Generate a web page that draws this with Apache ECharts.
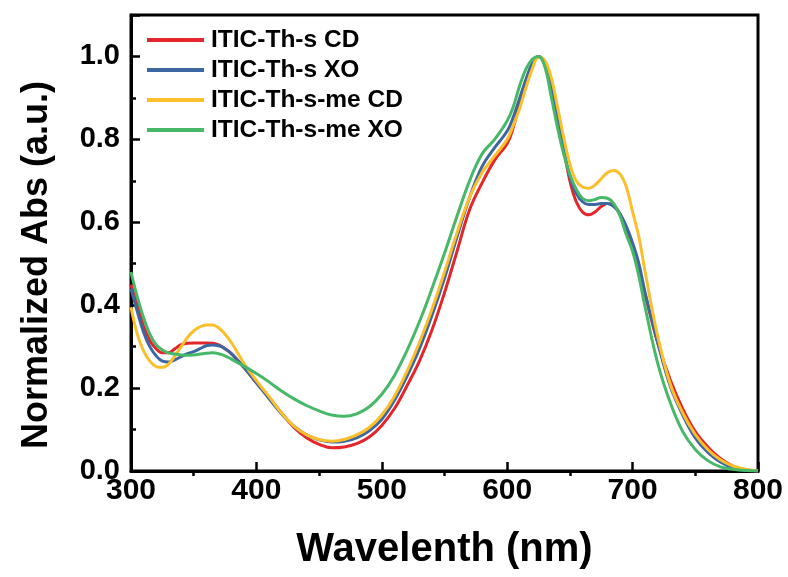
<!DOCTYPE html>
<html>
<head>
<meta charset="utf-8">
<script src="https://cdn.jsdelivr.net/npm/echarts@6/dist/echarts.min.js"></script>
<style>html,body{margin:0;padding:0;background:#fff}#c{width:788px;height:577px}</style>
</head>
<body>
<div id="c"></div>
<script>
const wavelengths = [300,305,310,315,320,325,330,335,340,345,350,355,360,365,370,375,380,
390,400,410,420,430,440,450,460,470,480,490,500,510,520,530,540,550,560,570,580,590,600,
605,610,615,620,625,630,635,640,645,650,655,660,665,670,675,680,685,690,695,700,705,710,
720,730,740,750,760,770,780,790,800];

const ithsCD = [0.45,0.40,0.35,0.315,0.295,0.285,0.285,0.295,0.305,0.308,0.309,0.309,0.309,0.308,0.304,0.295,0.283,
0.25,0.213,0.178,0.14,0.105,0.08,0.064,0.056,0.058,0.066,0.082,0.11,0.15,0.205,0.265,0.34,0.43,0.53,0.63,0.695,0.75,0.79,
0.83,0.89,0.94,0.98,1.0,0.985,0.935,0.86,0.78,0.70,0.65,0.625,0.618,0.625,0.638,0.645,0.64,0.62,0.585,0.54,0.485,0.425,
0.31,0.22,0.15,0.095,0.058,0.03,0.012,0.003,0.0];

const ithsXO = [0.44,0.385,0.335,0.30,0.278,0.265,0.263,0.268,0.276,0.283,0.288,0.295,0.302,0.304,0.302,0.295,0.283,
0.25,0.213,0.175,0.138,0.108,0.087,0.075,0.07,0.072,0.08,0.097,0.125,0.17,0.228,0.295,0.375,0.465,0.565,0.66,0.735,0.78,0.82,
0.855,0.9,0.945,0.983,1.0,0.98,0.925,0.85,0.775,0.71,0.67,0.65,0.643,0.643,0.645,0.645,0.638,0.62,0.59,0.55,0.50,0.43,
0.31,0.205,0.135,0.08,0.045,0.022,0.008,0.002,0.0];

const ithsmeCD = [0.395,0.33,0.29,0.265,0.252,0.25,0.258,0.278,0.30,0.322,0.338,0.348,0.352,0.352,0.345,0.33,0.31,
0.26,0.218,0.18,0.14,0.108,0.087,0.076,0.072,0.076,0.087,0.105,0.135,0.18,0.24,0.31,0.39,0.48,0.575,0.66,0.72,0.76,0.80,
0.835,0.875,0.925,0.97,0.998,0.99,0.95,0.88,0.805,0.74,0.70,0.685,0.682,0.69,0.705,0.72,0.725,0.716,0.685,0.625,0.565,0.48,
0.325,0.21,0.14,0.088,0.052,0.027,0.012,0.004,0.0];

const ithsmeXO = [0.48,0.42,0.37,0.33,0.305,0.292,0.285,0.282,0.28,0.279,0.28,0.282,0.284,0.285,0.283,0.278,0.27,
0.253,0.235,0.215,0.193,0.174,0.158,0.145,0.135,0.132,0.138,0.155,0.185,0.23,0.29,0.36,0.44,0.525,0.615,0.70,0.765,0.80,0.845,
0.88,0.93,0.97,0.993,1.0,0.975,0.905,0.83,0.765,0.715,0.68,0.658,0.652,0.655,0.66,0.658,0.645,0.615,0.57,0.53,0.47,0.395,
0.26,0.165,0.095,0.052,0.025,0.01,0.004,0.001,0.0];

const seriesNames = ['ITIC-Th-s CD','ITIC-Th-s XO','ITIC-Th-s-me CD','ITIC-Th-s-me XO'];
const seriesValues = [ithsCD, ithsXO, ithsmeCD, ithsmeXO];
const colors = ['#e3262a','#3d67a1','#fbbf2b','#47b868'];
const xTicks = [300,400,500,600,700,800];
const xMinorTicks = [350,450,550,650,750];

const FONT = '"Liberation Sans", Arial, sans-serif';
const chart = echarts.init(document.getElementById('c'));
chart.setOption({
  animation: false,
  backgroundColor: '#fff',
  grid: {left:131, right:30, top:15, bottom:106, show:true, borderColor:'#000', borderWidth:3, backgroundColor:'transparent'},
  legend: {
    left: 147, top: 27, padding: 0, orient: 'vertical', itemWidth: 57, itemHeight: 4, itemGap: 4,
    icon: 'rect',
    textStyle: {fontFamily: FONT, fontWeight:'bold', fontSize:24.5, color:'#000', lineHeight:26, padding:[0,0,0,2]},
    data: seriesNames
  },
  xAxis: [{
    type:'value', min:300, max:800, interval:100,
    name:'Wavelenth (nm)', nameLocation:'middle', nameGap:59,
    nameTextStyle:{fontFamily:FONT, fontWeight:'bold', fontSize:40, color:'#000'},
    axisLine:{lineStyle:{color:'#000', width:3}},
    axisTick:{inside:true, length:9, lineStyle:{color:'#000', width:2.5}, customValues: xTicks},
    axisLabel:{fontFamily:FONT, fontWeight:'bold', fontSize:30, color:'#000', margin:5, customValues: xTicks},
    splitLine:{show:false}
  },{
    type:'value', min:300, max:800, position:'bottom',
    axisLine:{show:false},
    axisTick:{inside:false, length:5, lineStyle:{color:'#000', width:2.5}, customValues: xMinorTicks},
    axisLabel:{show:false},
    splitLine:{show:false}
  }],
  yAxis: {
    type:'value', min:0, max:1.1, interval:0.2,
    name:'Normalized Abs (a.u.)', nameLocation:'middle', nameGap:76,
    nameTextStyle:{fontFamily:FONT, fontWeight:'bold', fontSize:36, color:'#000', padding:[0,44,0,0]},
    axisLine:{lineStyle:{color:'#000', width:3}},
    axisTick:{inside:true, length:9, lineStyle:{color:'#000', width:2.5}},
    minorTick:{show:true, splitNumber:2, length:5, lineStyle:{color:'#000', width:2.5}},
    axisLabel:{fontFamily:FONT, fontWeight:'bold', fontSize:29, color:'#000', margin:11,
      formatter: v => (Math.abs(v*5 - Math.round(v*5)) < 1e-6 ? v.toFixed(1) : '')},
    splitLine:{show:false}
  },
  series: seriesNames.map((n,i) => ({
    name:n, type:'line', xAxisIndex:0, smooth:0.4, symbol:'none',
    data: wavelengths.map((w,j) => [w, seriesValues[i][j]]),
    lineStyle:{color:colors[i], width:3},
    itemStyle:{color:colors[i]}
  }))
});
</script>
</body>
</html>
